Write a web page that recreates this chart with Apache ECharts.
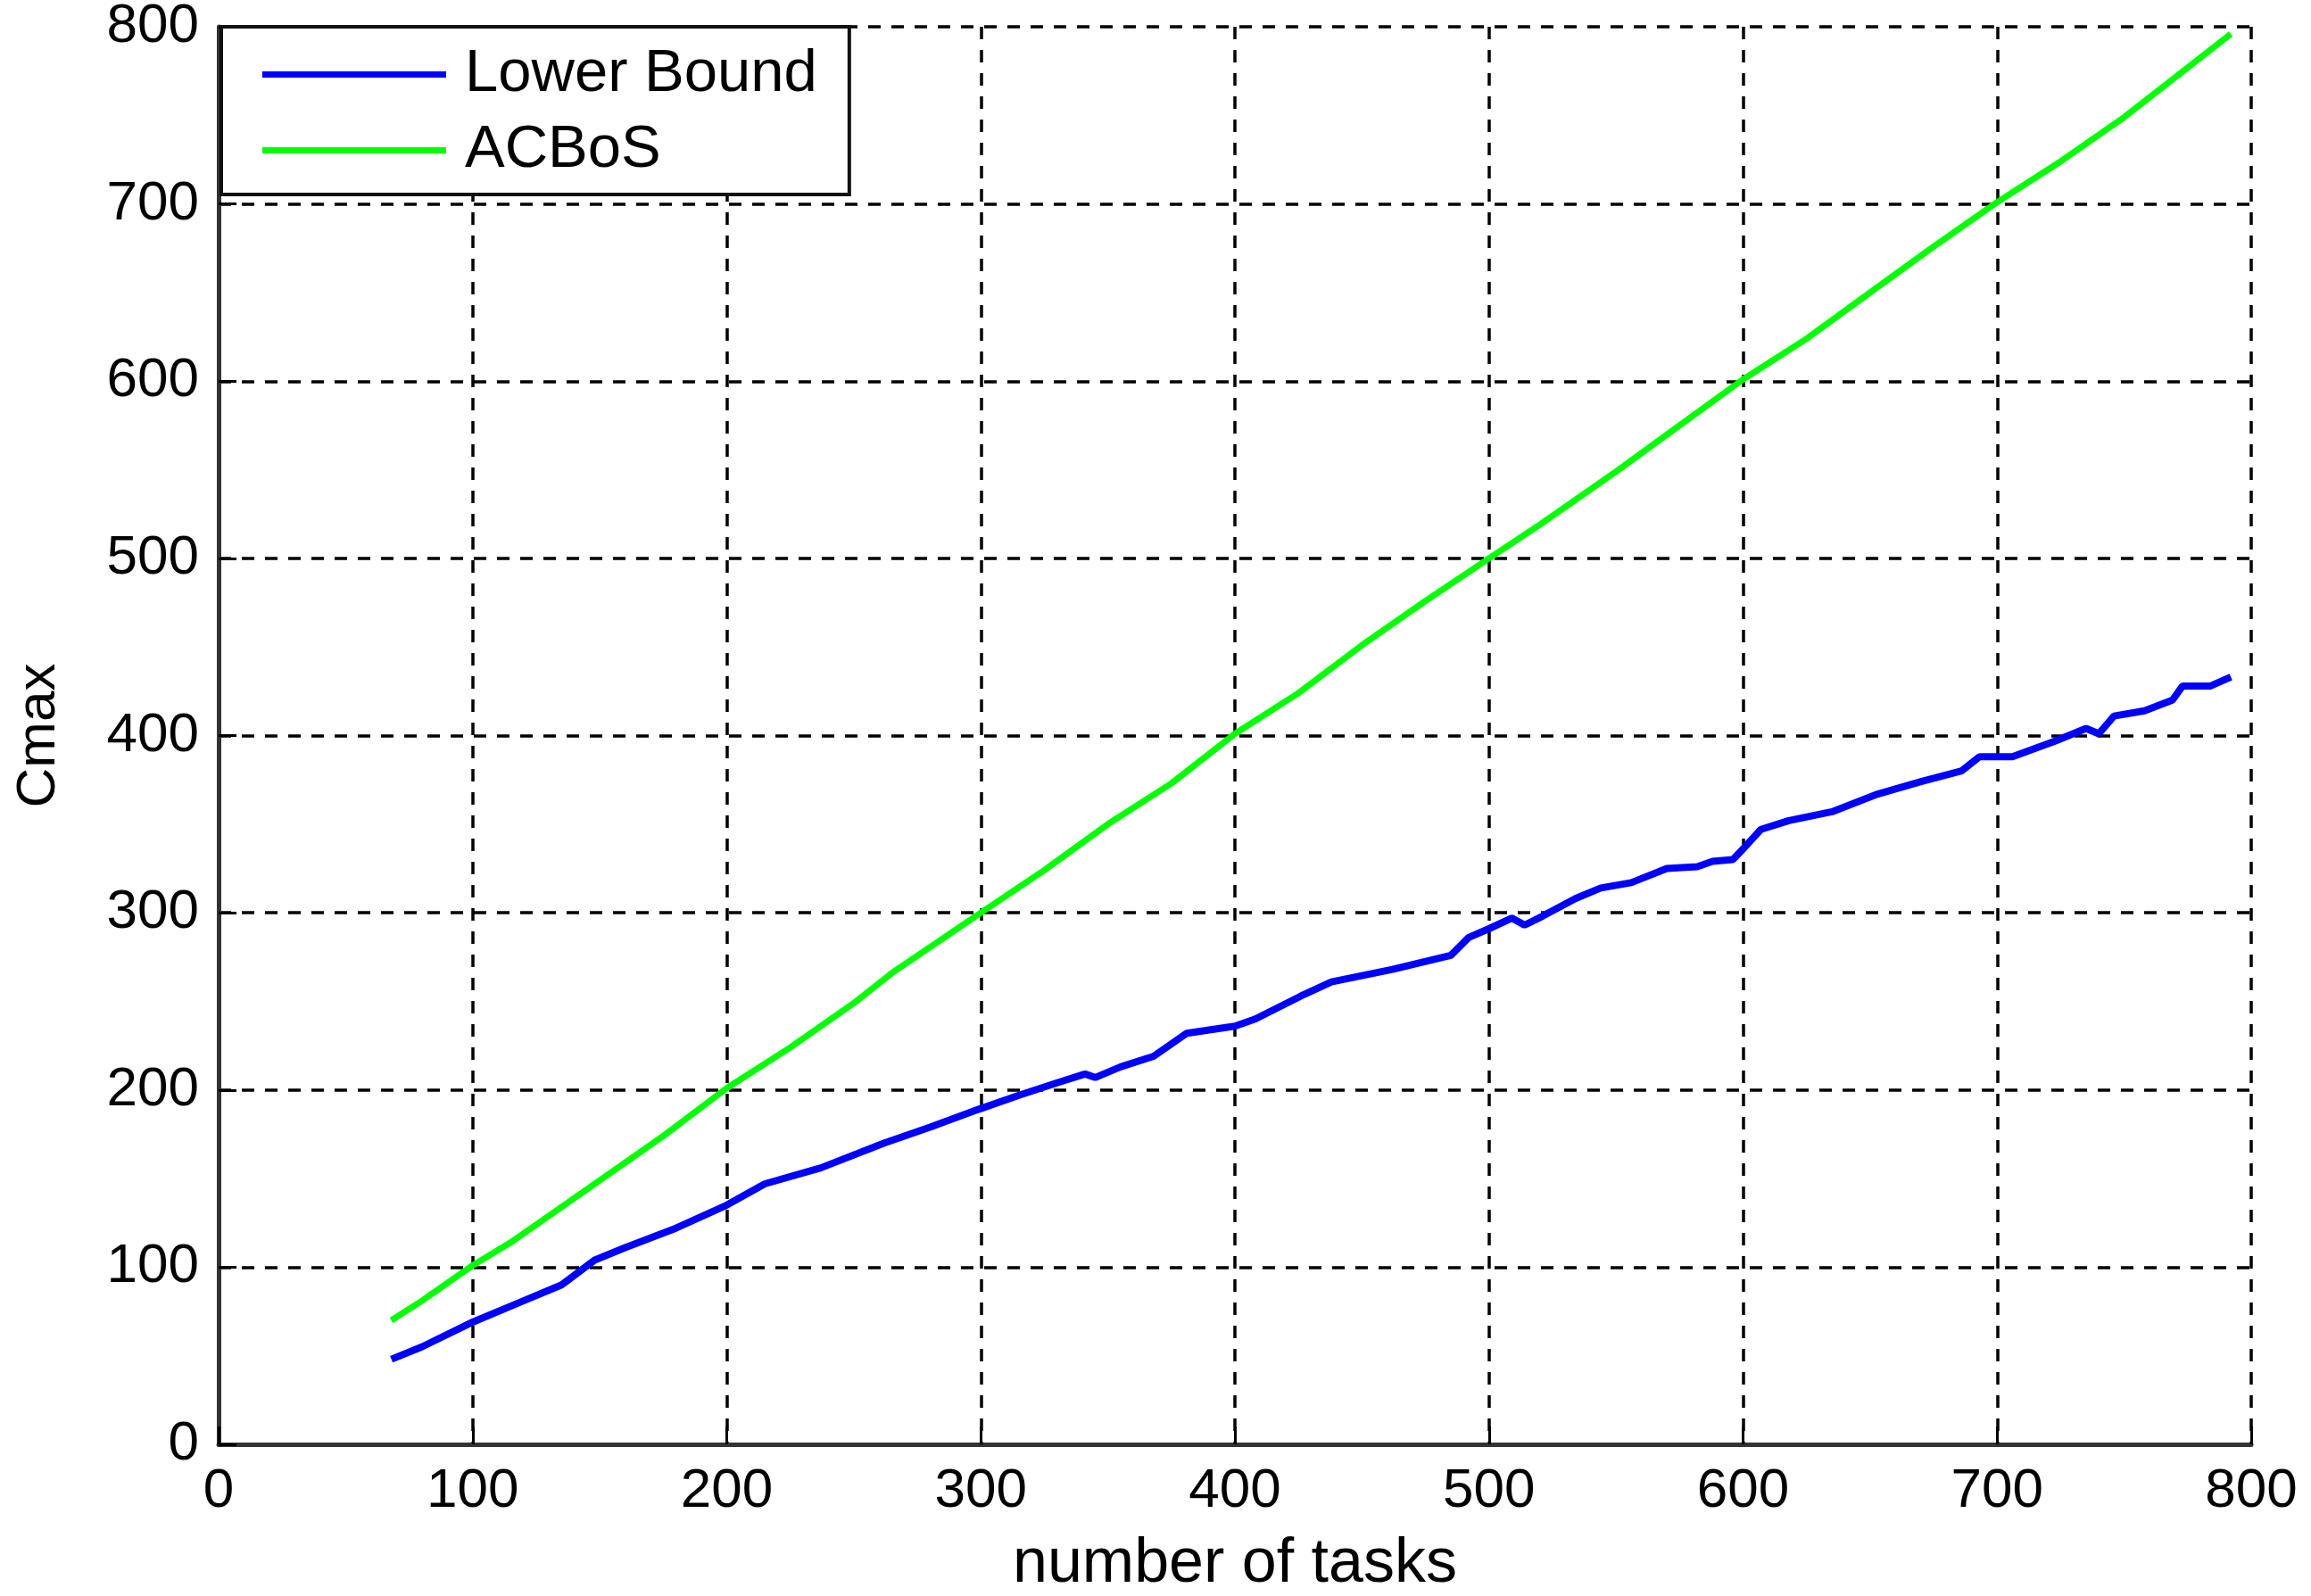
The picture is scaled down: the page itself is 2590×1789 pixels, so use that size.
<!DOCTYPE html>
<html>
<head>
<meta charset="utf-8">
<script src="https://cdn.jsdelivr.net/npm/echarts@6/dist/echarts.min.js"></script>
<style>
  html, body { margin: 0; padding: 0; background: #fff; }
  #chart { width: 2590px; height: 1789px; }
</style>
</head>
<body>
<div id="chart"></div>
<script>
  // Lower Bound (blue)
  const lowerX = [68, 80, 100, 120, 135, 148, 160, 180, 200, 215, 237, 262, 280, 299, 315, 330, 341, 345, 355, 368,
    381, 400, 408, 426, 438, 462, 485, 492, 500, 509, 514, 521, 534, 544, 556, 570, 582, 588, 596, 600,
    607, 618, 635, 653, 670, 686, 693, 706, 723, 735, 740, 746, 758, 769, 773, 784, 792];
  const lowerY = [48, 55, 69, 81, 90, 104, 111, 122, 135, 147, 156, 170, 179, 189, 197, 204, 209, 207, 213, 219,
    232, 236, 240, 253, 261, 268, 276, 286, 291, 297, 293, 298, 308, 314, 317, 325, 326, 329, 330, 336,
    347, 352, 357, 367, 374, 380, 388, 388, 397, 404, 401, 411, 414, 420, 428, 428, 433];

  // ACBoS (green)
  const acbosX = [68, 80, 100, 115, 130, 150, 175, 200, 225, 250, 265, 300, 325, 350, 375, 400, 425, 450, 475, 500,
    520, 550, 575, 600, 625, 650, 675, 700, 725, 750, 775, 792];
  const acbosY = [70, 81, 101, 114, 129, 149, 174, 201, 224, 249, 266, 300, 324, 350, 373, 401, 424, 451, 476, 500,
    519, 549, 575, 601, 624, 650, 676, 701, 724, 749, 777, 796];

  const zip = (xs, ys) => xs.map((x, i) => [x, ys[i]]);

  const font = 'Liberation Sans, Arial, sans-serif';
  const gridLine = {show: true, lineStyle: {color: '#000', width: 3.5, type: [14, 12]}};

  let chart = echarts.init(document.getElementById('chart'));
  chart.setOption({
    animation: false,
    backgroundColor: '#fff',
    grid: {left: 245, right: 67, top: 30, bottom: 170, containLabel: false, outerBoundsMode: 'none'},
    legend: {
      left: 248,
      top: 30,
      orient: 'vertical',
      icon: 'rect',
      itemWidth: 206,
      itemHeight: 7,
      itemGap: 18,
      padding: [20, 36, 16, 46],
      backgroundColor: '#fff',
      borderColor: '#111',
      borderWidth: 4,
      z: 10,
      textStyle: {fontFamily: font, fontSize: 67, color: '#000', padding: [0, 0, 0, 16]},
      data: ['Lower Bound', 'ACBoS']
    },
    xAxis: {
      type: 'value',
      min: 0,
      max: 800,
      interval: 100,
      name: 'number of tasks',
      nameLocation: 'middle',
      nameGap: 100,
      nameTextStyle: {fontFamily: font, fontSize: 70, color: '#000'},
      axisLine: {show: true, lineStyle: {color: '#333', width: 5}},
      axisTick: {show: true, inside: true, length: 20, lineStyle: {color: '#000', width: 3}},
      axisLabel: {fontFamily: font, fontSize: 62, color: '#000', margin: 22},
      splitLine: gridLine
    },
    yAxis: {
      type: 'value',
      min: 0,
      max: 800,
      interval: 100,
      name: 'Cmax',
      nameLocation: 'middle',
      nameGap: 170,
      nameTextStyle: {fontFamily: font, fontSize: 62, color: '#000'},
      axisLine: {show: true, lineStyle: {color: '#333', width: 5}},
      axisTick: {show: true, inside: true, length: 20, lineStyle: {color: '#000', width: 3}},
      axisLabel: {fontFamily: font, fontSize: 62, color: '#000', margin: 22},
      splitLine: gridLine
    },
    series: [
      {
        name: 'Lower Bound',
        type: 'line',
        data: zip(lowerX, lowerY),
        showSymbol: false,
        itemStyle: {color: '#0000ff'},
        lineStyle: {color: '#0000ff', width: 8}
      },
      {
        name: 'ACBoS',
        type: 'line',
        data: zip(acbosX, acbosY),
        showSymbol: false,
        itemStyle: {color: '#00ff00'},
        lineStyle: {color: '#00ff00', width: 7}
      }
    ]
  });
</script>
</body>
</html>
